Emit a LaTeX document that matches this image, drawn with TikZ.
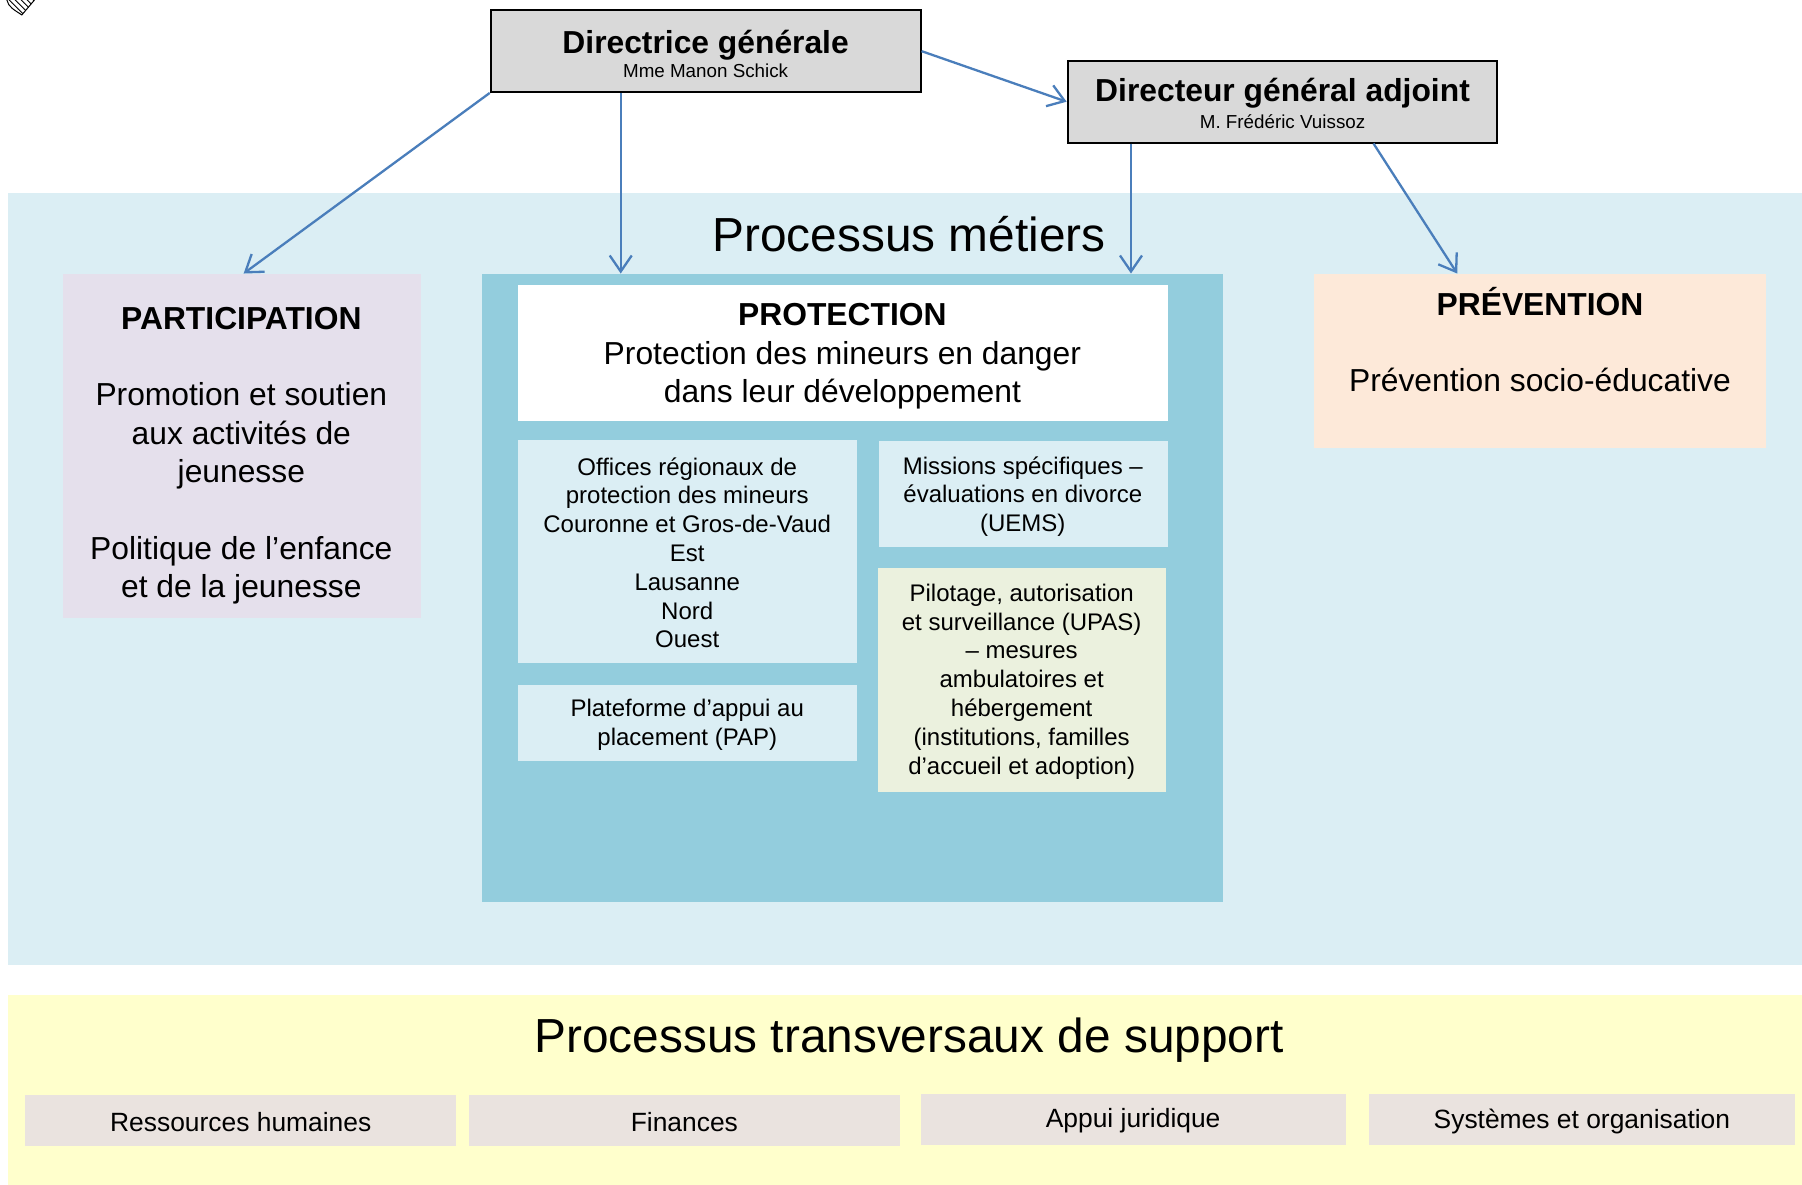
\documentclass[tikz,border=0pt]{standalone}
\usepackage{fontspec}
\setmainfont{Liberation Sans}
\usetikzlibrary{arrows.meta,patterns,fit,calc}
\definecolor{bandblue}{HTML}{DBEEF4}
\definecolor{protblue}{HTML}{93CDDD}
\definecolor{lav}{HTML}{E5E0EC}
\definecolor{peach}{HTML}{FDE9D9}
\definecolor{sage}{HTML}{EBF1DE}
\definecolor{suppgray}{HTML}{EAE3DF}
\definecolor{yel}{HTML}{FFFFCC}
\definecolor{dirgray}{HTML}{D9D9D9}
\definecolor{arrblue}{HTML}{4A7EBB}
\begin{document}
\begin{tikzpicture}[x=0.5746pt,y=-0.5746pt,
  area/.style={inner sep=0pt, outer sep=0pt, draw=none},
  dirbox/.style={inner sep=0pt, draw=black, line width=1pt, fill=dirgray},
  txtbig/.style={inner sep=0pt, align=center, font=\fontsize{23.9}{28}\selectfont},
  txtmain/.style={inner sep=0pt, align=center, font=\fontsize{15.9}{19.2}\selectfont},
  txtsmall/.style={inner sep=0pt, align=center, font=\fontsize{12}{14.4}\selectfont},
  txtsupp/.style={inner sep=0pt, align=center, font=\fontsize{13.2}{15.8}\selectfont},
  txtdir/.style={inner sep=0pt, align=center, font=\fontsize{15.9}{19}\selectfont\bfseries},
  txtsub/.style={inner sep=0pt, align=center, font=\fontsize{9.4}{11}\selectfont},
  arr/.style={draw=arrblue, line width=1.15pt, -{Straight Barb[length=8pt,width=11pt]}}]
\useasboundingbox (0,0) rectangle (1568,1031);
\fill[white] (0,0) rectangle (1568,1031);

% bands
\node[area, fill=bandblue, fit={(7,168)(1568,840)}] (metiers) {};
\node[area, fill=yel, fit={(7,866)(1568,1031)}] (support) {};

% small hatched glyph
\fill[pattern=north west lines] (6,0) .. controls (7,6) and (13,9) .. (19,13) -- (30,0) -- cycle;
\draw[line width=0.5pt] (6,0) .. controls (7,6) and (13,9) .. (19,13) -- (30,0);

% direction boxes
\node[dirbox, fit={(427,9)(801,80)}] (dg) {};
\node[txtdir] (dgt) at (614,39) {Directrice générale};
\node[txtsub] (dgs) at (614,62) {Mme Manon Schick};
\node[dirbox, fit={(929,53)(1303,124)}] (dga) {};
\node[txtdir] (dgat) at (1116,81) {Directeur général adjoint};
\node[txtsub] (dgas) at (1116,106) {M. Frédéric Vuissoz};

% titles
\node[txtbig] (tm) at (791,204) {Processus métiers};
\node[txtbig] (ts) at (791,905) {Processus transversaux de support};

% participation
\node[area, fill=lav, fit={(55,238)(366,538)}] (part) {};
\node[txtmain] (partt) at (210,396.5) {\textbf{PARTICIPATION}\\[19.2pt]Promotion et soutien\\aux activités de\\jeunesse\\[19.2pt]Politique de l’enfance\\et de la jeunesse};

% protection
\node[area, fill=protblue, fit={(419,238)(1064,785)}] (prot) {};
\node[area, fill=white, fit={(451,248)(1016,366)}] (protw) {};
\node[txtmain] (prott) at (733,310) {\textbf{PROTECTION}\\Protection des mineurs en danger\\dans leur développement};
\node[area, fill=bandblue, fit={(451,383)(746,577)}] (off) {};
\node[txtsmall] (offt) at (598,481) {Offices régionaux de\\protection des mineurs\\Couronne et Gros-de-Vaud\\Est\\Lausanne\\Nord\\Ouest};
\node[area, fill=bandblue, fit={(765,384)(1016,476)}] (miss) {};
\node[txtsmall] (misst) at (890,432) {Missions spécifiques –\\évaluations en divorce\\(UEMS)};
\node[area, fill=sage, fit={(764,494)(1015,689)}] (pil) {};
\node[txtsmall] (pilt) at (889,593) {Pilotage, autorisation\\et surveillance (UPAS)\\– mesures\\ambulatoires et\\hébergement\\(institutions, familles\\d’accueil et adoption)};
\node[area, fill=bandblue, fit={(451,596)(746,662)}] (pap) {};
\node[txtsmall] (papt) at (598,630.5) {Plateforme d’appui au\\placement (PAP)};

% prevention
\node[area, fill=peach, fit={(1143,238)(1537,390)}] (prev) {};
\node[txtmain] (prevt) at (1340,295.5) {\textbf{PRÉVENTION}\\[19.2pt]Prévention socio-éducative};

% support boxes
\node[area, fill=suppgray, fit={(22,953)(397,997)}] (rh) {};
\node[txtsupp] at ([yshift=-1.5*0.5746pt]rh.center) {Ressources humaines};
\node[area, fill=suppgray, fit={(408,953)(783,997)}] (fin) {};
\node[txtsupp] at ([yshift=-1.5*0.5746pt]fin.center) {Finances};
\node[area, fill=suppgray, fit={(801,952)(1171,996)}] (jur) {};
\node[txtsupp] at ([yshift=-1.5*0.5746pt]jur.center) {Appui juridique};
\node[area, fill=suppgray, fit={(1191,952)(1562,996)}] (sys) {};
\node[txtsupp] at ([yshift=-1.5*0.5746pt]sys.center) {Systèmes et organisation};

% connectors
\coordinate (a2s) at ($(dg.south west)+(114,0)$);
\coordinate (a4s) at ($(dga.south west)+(56,0)$);
\coordinate (a5s) at ($(dga.south west)+(267,0)$);
\coordinate (a5e) at ($(prev.north west)+(125,0)$);
\draw[arr] (dg.south west) -- ([xshift=1.5*0.5746pt]part.north);
\draw[arr] (a2s) -- (a2s |- prot.north);
\draw[arr] (dg.east) -- (dga.west);
\draw[arr] (a4s) -- (a4s |- prot.north);
\draw[arr] (a5s) -- (a5e);
\end{tikzpicture}
\end{document}
